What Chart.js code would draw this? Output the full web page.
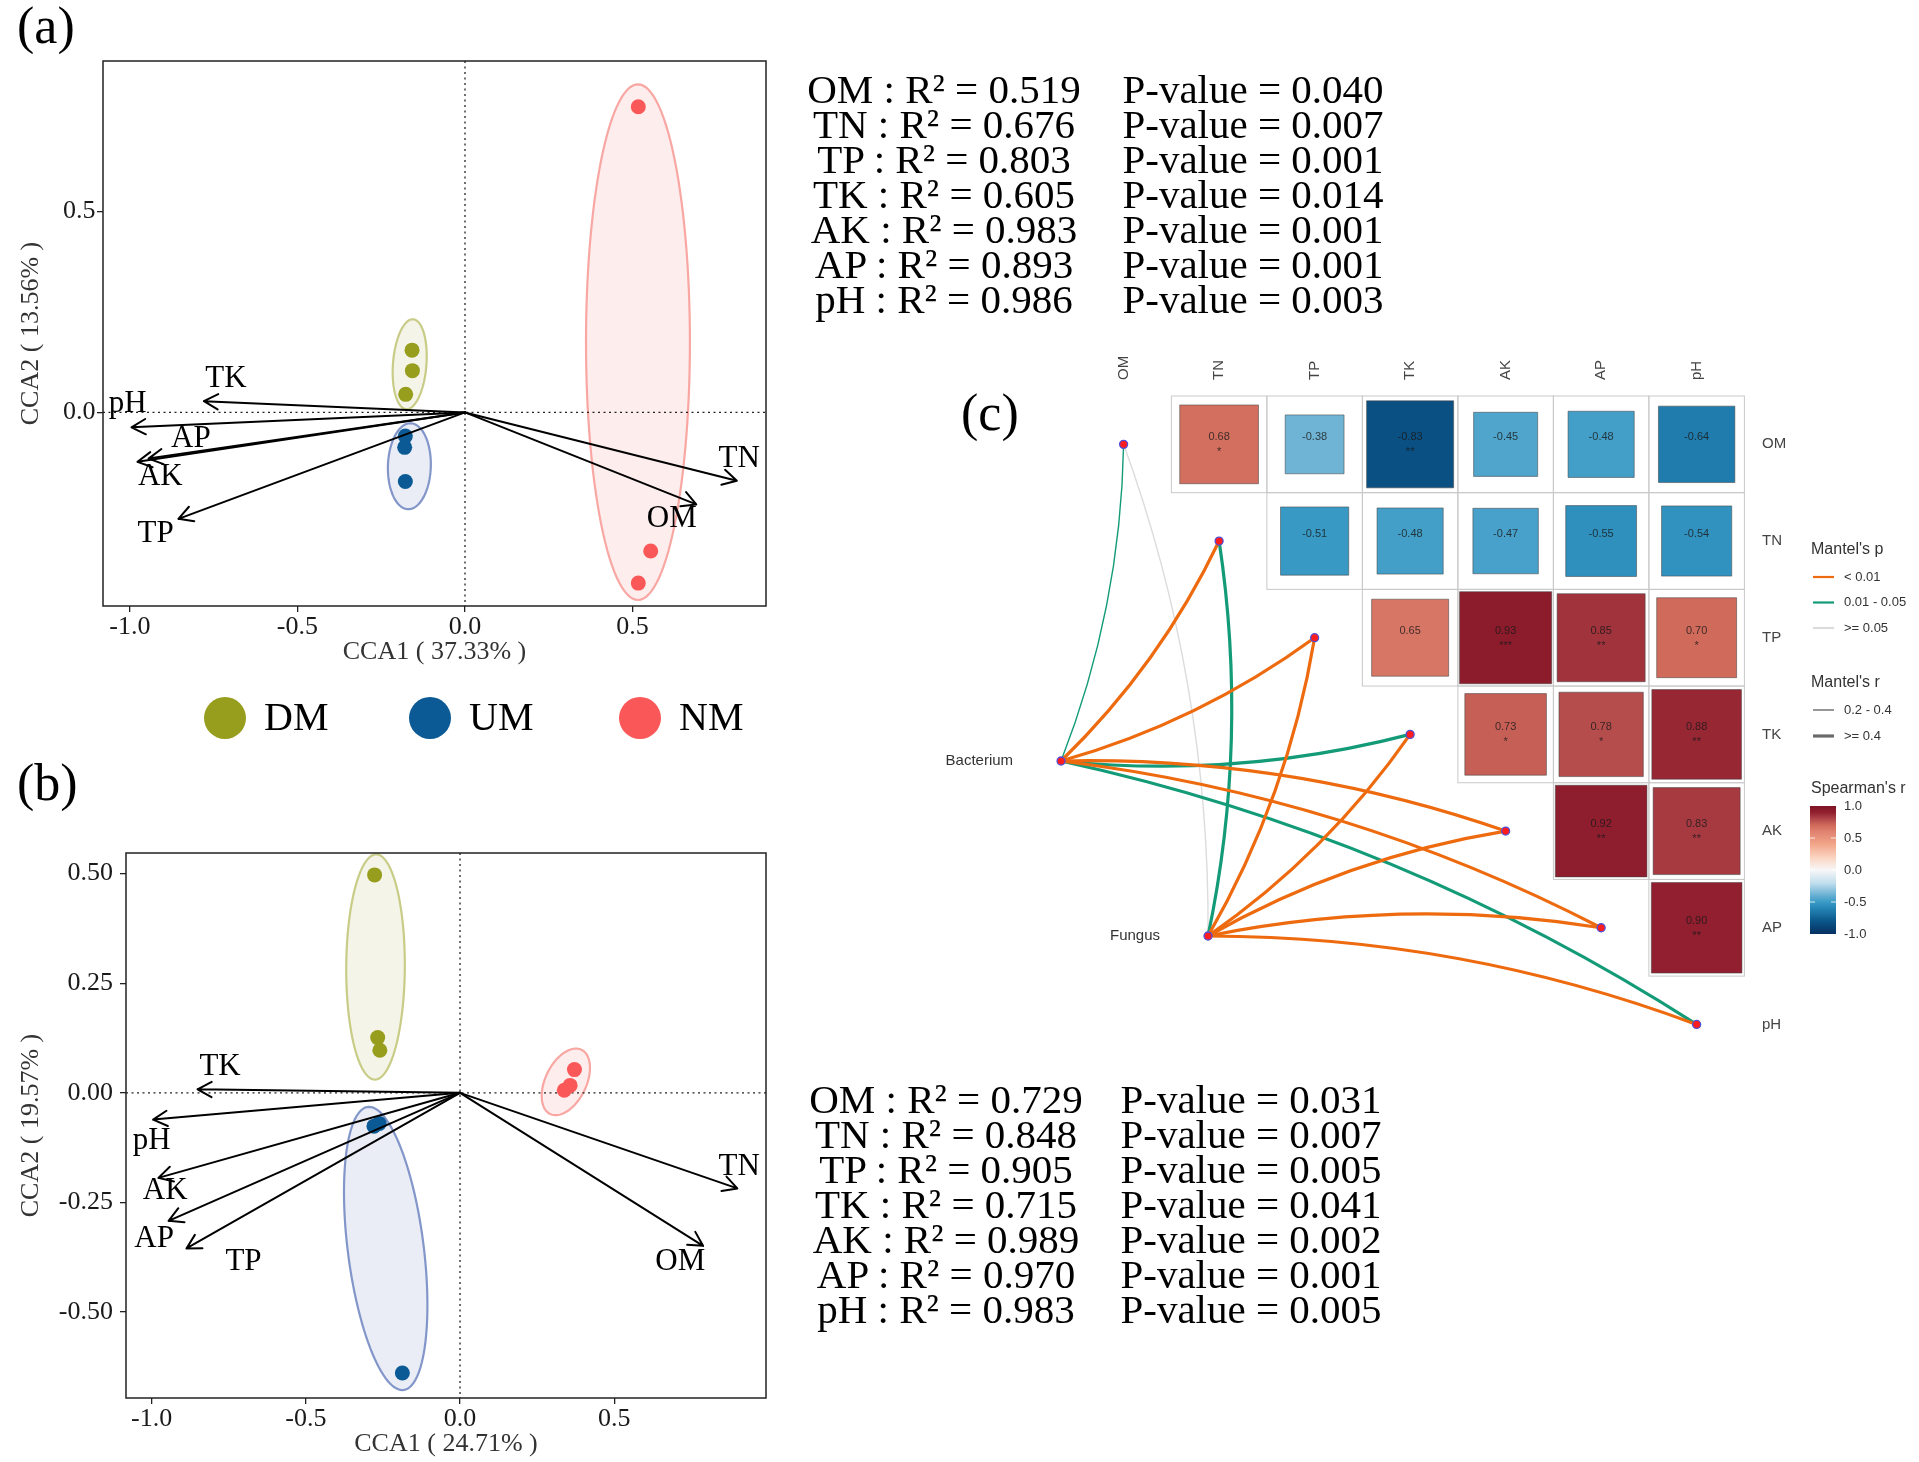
<!DOCTYPE html>
<html lang="en">
<head>
<meta charset="UTF-8">
<title>CCA ordination and Mantel test</title>
<script src="https://cdn.jsdelivr.net/npm/chart.js"></script>
<style>
  html, body { margin: 0; padding: 0; background: #fff; }
  body { position: relative; width: 1919px; height: 1462px; overflow: hidden; font-family: 'Liberation Serif', 'Times New Roman', serif; }
  canvas { position: absolute; }
  #cca1 { left: 0; top: 0; }
  #cca2 { left: 0; top: 760px; }
  #mantel { left: 800px; top: 0; }
  .tag { position: absolute; font-size: 52px; line-height: 52px; color: #000; }
  .stats { position: absolute; width: 360px; font-size: 41px; line-height: 35px; text-align: center; white-space: nowrap; color: #000; }
</style>
</head>
<body>
<canvas id="cca1" width="800" height="760"></canvas>
<canvas id="cca2" width="800" height="702"></canvas>
<canvas id="mantel" width="1119" height="1462"></canvas>
<div class="tag" style="left:17px; top:0px">(a)</div>
<div class="tag" style="left:17px; top:757px">(b)</div>
<div class="tag" style="left:961px; top:387px">(c)</div>
<div class="stats" id="statsA1" style="left:764px; top:72px"></div>
<div class="stats" id="statsA2" style="left:1073px; top:72px"></div>
<div class="stats" id="statsB1" style="left:766px; top:1082px"></div>
<div class="stats" id="statsB2" style="left:1071px; top:1082px"></div>

<script>
// ---- data ----
const envNames = ['OM', 'TN', 'TP', 'TK', 'AK', 'AP', 'pH'];
const groups = ['DM', 'UM', 'NM'];

// envfit results
const r2A = [0.519, 0.676, 0.803, 0.605, 0.983, 0.893, 0.986];
const pA = [0.040, 0.007, 0.001, 0.014, 0.001, 0.001, 0.003];
const r2B = [0.729, 0.848, 0.905, 0.715, 0.989, 0.970, 0.983];
const pB = [0.031, 0.007, 0.005, 0.041, 0.002, 0.001, 0.005];

// panel (a) site scores
const dmA = [[-0.158, 0.155], [-0.157, 0.104], [-0.177, 0.045]];
const umA = [[-0.178, -0.059], [-0.180, -0.087], [-0.178, -0.172]];
const nmA = [[0.517, 0.761], [0.554, -0.345], [0.517, -0.425]];
// env arrow tips, same order as envNames
const arrowsA = [[0.690, -0.229], [0.811, -0.170], [-0.855, -0.265], [-0.779, 0.028], [-0.977, -0.123], [-0.944, -0.115], [-0.995, -0.037]];
const labelPosA = [[0.617, -0.265], [0.818, -0.116], [-0.923, -0.302], [-0.713, 0.083], [-0.909, -0.160], [-0.818, -0.065], [-1.006, 0.021]];
// ellipses: centre x, centre y, then two conjugate half-axes (ux, uy, vx, vy)
const ellipsesA = [[-0.165, 0.120, 0.009, 0.112, 0.050, 0], [-0.166, -0.134, 0.003, 0.107, 0.064, 0], [0.516, 0.175, 0, 0.642, 0.155, 0]];

// panel (b) site scores
const dmB = [[-0.277, 0.497], [-0.267, 0.126], [-0.260, 0.097]];
const umB = [[-0.279, -0.076], [-0.262, -0.070], [-0.187, -0.639]];
const nmB = [[0.371, 0.053], [0.357, 0.017], [0.338, 0.006]];
const arrowsB = [[0.788, -0.349], [0.899, -0.218], [-0.887, -0.355], [-0.851, 0.008], [-0.978, -0.194], [-0.945, -0.292], [-0.995, -0.061]];
const labelPosB = [[0.714, -0.385], [0.905, -0.168], [-0.702, -0.385], [-0.778, 0.059], [-0.956, -0.223], [-0.992, -0.332], [-1.000, -0.109]];
const ellipsesB = [[-0.274, 0.287, 0.002, 0.257, 0.095, 0], [-0.241, -0.355, -0.054, 0.323, 0.124, 0], [0.343, 0.025, 0.033, 0.076, 0.071, 0]];

// ticks
const xTickVals = [-1, -0.5, 0, 0.5];
const xTickText = ['-1.0', '-0.5', '0.0', '0.5'];
const yTickValsA = [0, 0.5];
const yTickTextA = ['0.0', '0.5'];
const yTickValsB = [-0.5, -0.25, 0, 0.25, 0.5];
const yTickTextB = ['-0.50', '-0.25', '0.00', '0.25', '0.50'];

// panel (c) spearman correlations, upper triangle by row
const spearmanRows = [
  [0.68, -0.38, -0.83, -0.45, -0.48, -0.64],
  [-0.51, -0.48, -0.47, -0.55, -0.54],
  [0.65, 0.93, 0.85, 0.70],
  [0.73, 0.78, 0.88],
  [0.92, 0.83],
  [0.90]
];
const spearmanStars = [
  ['*', '', '**', '', '', ''],
  ['', '', '', '', ''],
  ['', '***', '**', '*'],
  ['*', '*', '**'],
  ['**', '**'],
  ['**']
];
const speciesNames = ['Bacterium', 'Fungus'];
const speciesX = [-0.655, 0.884];
const speciesY = [3.275, 5.085];
const mantelP = [
  ['0.01 - 0.05', '< 0.01', '< 0.01', '0.01 - 0.05', '< 0.01', '< 0.01', '0.01 - 0.05'],
  ['>= 0.05', '0.01 - 0.05', '< 0.01', '< 0.01', '< 0.01', '< 0.01', '< 0.01']
];
const mantelR = [
  ['0.2 - 0.4', '>= 0.4', '>= 0.4', '>= 0.4', '>= 0.4', '>= 0.4', '>= 0.4'],
  ['0.2 - 0.4', '>= 0.4', '>= 0.4', '>= 0.4', '>= 0.4', '>= 0.4', '>= 0.4']
];
const pClasses = ['< 0.01', '0.01 - 0.05', '>= 0.05'];
const rClasses = ['0.2 - 0.4', '>= 0.4'];
const spearmanTicks = [1.0, 0.5, 0.0, -0.5, -1.0];

// ---- styles ----
const groupColors = ['#979d1d', '#0b5a95', '#fa5858'];
const ellipseFill = ['rgba(151,157,29,0.10)', 'rgba(45,80,170,0.10)', 'rgba(250,88,88,0.11)'];
const ellipseLine = ['#c8cc87', '#8396c9', '#f8a7a3'];
const pColors = ['#ee6a0f', '#139b78', '#dcdcdc'];
const rWidths = [1.4, 3.2];
const rdbuStops = [[-1, '#053061'], [-0.8, '#0b5689'], [-0.6, '#2585b5'], [-0.5, '#3a9bc6'], [-0.4, '#66afd2'],
  [-0.2, '#c3dfee'], [0, '#f7f7f7'], [0.2, '#fbd3c0'], [0.4, '#f2a68a'], [0.6, '#e08270'], [0.7, '#d06a5b'],
  [0.8, '#b04649'], [0.9, '#921f2f'], [1, '#7f1425']];

Chart.defaults.font.family = "'Liberation Serif', 'Times New Roman', serif";
Chart.defaults.color = '#222';

function hexRgb(h) { return [1, 3, 5].map(i => parseInt(h.substr(i, 2), 16)); }
function corrColor(v) {
  for (let i = 1; i < rdbuStops.length; i++) {
    if (v <= rdbuStops[i][0]) {
      const [v0, c0] = rdbuStops[i - 1], [v1, c1] = rdbuStops[i];
      const t = (v - v0) / (v1 - v0), a = hexRgb(c0), b = hexRgb(c1);
      return 'rgb(' + a.map((c, k) => Math.round(c + (b[k] - c) * t)).join(',') + ')';
    }
  }
  return rdbuStops[rdbuStops.length - 1][1];
}

// ---- stats text ----
function fillStats(id1, id2, r2, p) {
  document.getElementById(id1).innerHTML = envNames.map((e, i) => `<div>${e} : R² = ${r2[i].toFixed(3)}</div>`).join('');
  document.getElementById(id2).innerHTML = p.map(v => `<div>P-value = ${v.toFixed(3)}</div>`).join('');
}
fillStats('statsA1', 'statsA2', r2A, pA);
fillStats('statsB1', 'statsB2', r2B, pB);

// ---- CCA panels ----
function ccaDecor(cfg) {
  return {
    id: 'ccaDecor',
    beforeDatasetsDraw(chart) {
      const { ctx, chartArea: a, scales: { x, y } } = chart;
      ctx.save();
      cfg.ellipses.forEach((e, i) => {
        ctx.beginPath();
        for (let k = 0; k <= 120; k++) {
          const t = k / 120 * Math.PI * 2;
          const px = x.getPixelForValue(e[0] + e[2] * Math.cos(t) + e[4] * Math.sin(t));
          const py = y.getPixelForValue(e[1] + e[3] * Math.cos(t) + e[5] * Math.sin(t));
          if (k) ctx.lineTo(px, py); else ctx.moveTo(px, py);
        }
        ctx.closePath();
        ctx.fillStyle = ellipseFill[i];
        ctx.fill();
        ctx.strokeStyle = ellipseLine[i];
        ctx.lineWidth = 2.2;
        ctx.stroke();
      });
      // dotted zero lines
      const x0 = x.getPixelForValue(0), y0 = y.getPixelForValue(0);
      ctx.setLineDash([2, 3.5]);
      ctx.strokeStyle = '#222';
      ctx.lineWidth = 1.3;
      ctx.beginPath();
      ctx.moveTo(a.left, y0); ctx.lineTo(a.right, y0);
      ctx.moveTo(x0, a.top); ctx.lineTo(x0, a.bottom);
      ctx.stroke();
      ctx.restore();
    },
    afterDatasetsDraw(chart) {
      const { ctx, scales: { x, y } } = chart;
      const x0 = x.getPixelForValue(0), y0 = y.getPixelForValue(0);
      ctx.save();
      ctx.strokeStyle = '#000';
      ctx.lineWidth = 2;
      ctx.lineCap = 'round';
      cfg.arrows.forEach(([ax, ay]) => {
        const x1 = x.getPixelForValue(ax), y1 = y.getPixelForValue(ay);
        const ang = Math.atan2(y1 - y0, x1 - x0);
        ctx.beginPath();
        ctx.moveTo(x0, y0); ctx.lineTo(x1, y1);
        [-1, 1].forEach(s => {
          ctx.moveTo(x1, y1);
          ctx.lineTo(x1 - 16 * Math.cos(ang + s * 0.5), y1 - 16 * Math.sin(ang + s * 0.5));
        });
        ctx.stroke();
      });
      ctx.fillStyle = '#000';
      ctx.font = "31px 'Liberation Serif'";
      ctx.textAlign = 'center';
      ctx.textBaseline = 'middle';
      cfg.labels.forEach(([lx, ly], i) => ctx.fillText(envNames[i], x.getPixelForValue(lx), y.getPixelForValue(ly)));
      ctx.restore();
    },
    afterDraw(chart) {
      const { ctx, chartArea: a } = chart;
      ctx.save();
      ctx.strokeStyle = '#222';
      ctx.lineWidth = 1.5;
      ctx.strokeRect(a.left, a.top, a.width, a.height);
      if (cfg.legend) {
        const cxs = [225, 430, 640];
        ctx.font = "40px 'Liberation Serif'";
        ctx.textBaseline = 'middle';
        chart.data.datasets.forEach((ds, i) => {
          ctx.fillStyle = ds.backgroundColor;
          ctx.beginPath();
          ctx.arc(cxs[i], 718, 21, 0, Math.PI * 2);
          ctx.fill();
          ctx.fillStyle = '#000';
          ctx.fillText(ds.label, cxs[i] + 39, 719);
        });
      }
      ctx.restore();
    }
  };
}

function ccaChart(id, cfg) {
  return new Chart(document.getElementById(id), {
    type: 'scatter',
    data: {
      datasets: cfg.points.map((pts, i) => ({
        label: groups[i],
        data: pts.map(p => ({ x: p[0], y: p[1] })),
        backgroundColor: groupColors[i],
        borderWidth: 0,
        pointRadius: 7.5,
        pointHoverRadius: 7.5
      }))
    },
    options: {
      responsive: false,
      animation: false,
      events: [],
      layout: { padding: cfg.padding },
      plugins: { legend: { display: false }, tooltip: { enabled: false } },
      scales: {
        x: {
          type: 'linear', min: cfg.xRange[0], max: cfg.xRange[1],
          afterBuildTicks: s => { s.ticks = xTickVals.map(v => ({ value: v })); },
          afterFit: s => { s.height = cfg.xAxisH; },
          ticks: { callback: (v, i) => xTickText[i], font: { size: 26 }, color: '#1a1a1a', padding: 0, maxRotation: 0, autoSkip: false },
          grid: { drawOnChartArea: false, drawTicks: true, tickLength: 6, color: '#222', lineWidth: 1.3 },
          border: { display: false },
          title: { display: true, text: cfg.xTitle, font: { size: 26 }, color: '#333', padding: { top: 0, bottom: cfg.xTitlePad } }
        },
        y: {
          type: 'linear', min: cfg.yRange[0], max: cfg.yRange[1],
          afterBuildTicks: s => { s.ticks = cfg.yTicks.map(v => ({ value: v })); },
          afterFit: s => { s.width = cfg.yAxisW; },
          ticks: { callback: (v, i) => cfg.yTickText[i], font: { size: 26 }, color: '#1a1a1a', padding: cfg.yTickPad, autoSkip: false },
          grid: { drawOnChartArea: false, drawTicks: true, tickLength: 6, color: '#222', lineWidth: 1.3 },
          border: { display: false },
          title: { display: true, text: cfg.yTitle, font: { size: 26 }, color: '#333', padding: { top: 15.4, bottom: 0 } }
        }
      }
    },
    plugins: [ccaDecor(cfg)]
  });
}

ccaChart('cca1', {
  points: [dmA, umA, nmA], ellipses: ellipsesA, arrows: arrowsA, labels: labelPosA,
  xRange: [-1.08, 0.898], yRange: [-0.482, 0.875], yTicks: yTickValsA, yTickText: yTickTextA,
  padding: { left: 0, top: 61, right: 34, bottom: 80 }, xAxisH: 74, yAxisW: 103, xTitlePad: 12.4, yTickPad: 1.5,
  xTitle: 'CCA1 ( 37.33% )', yTitle: 'CCA2 ( 13.56% )', legend: true
});

ccaChart('cca2', {
  points: [dmB, umB, nmB], ellipses: ellipsesB, arrows: arrowsB, labels: labelPosB,
  xRange: [-1.083, 0.992], yRange: [-0.696, 0.547], yTicks: yTickValsB, yTickText: yTickTextB,
  padding: { left: 0, top: 93, right: 34, bottom: 0 }, xAxisH: 64, yAxisW: 126, xTitlePad: 2.4, yTickPad: 7,
  xTitle: 'CCA1 ( 24.71% )', yTitle: 'CCA2 ( 19.57% )', legend: false
});

// ---- Mantel panel ----
const squares = [];
spearmanRows.forEach((row, i) => row.forEach((r, m) => squares.push({ x: i + 1 + m, y: i, r: r, stars: spearmanStars[i][m] })));
const nodes = envNames.map((e, i) => ({ x: i, y: i }))
  .concat(speciesNames.map((s, i) => ({ x: speciesX[i], y: speciesY[i] })));

function cellPx(chart) {
  const x = chart.scales.x;
  return x.getPixelForValue(1) - x.getPixelForValue(0);
}

const mantelDecor = {
  id: 'mantelDecor',
  beforeDatasetsDraw(chart) {
    const { ctx, scales: { x, y } } = chart;
    const cw = cellPx(chart);
    const ch = y.getPixelForValue(1) - y.getPixelForValue(0);
    ctx.save();
    ctx.strokeStyle = '#c9c9c9';
    ctx.lineWidth = 1;
    for (let i = 0; i < envNames.length; i++) {
      for (let j = i + 1; j < envNames.length; j++) {
        ctx.strokeRect(x.getPixelForValue(j) - cw / 2, y.getPixelForValue(i) - ch / 2, cw, ch);
      }
    }
    // couple edges, faint class first
    const edges = [];
    speciesNames.forEach((sp, s) => envNames.forEach((e, k) => edges.push({ s, k })));
    edges.sort((a, b) => pClasses.indexOf(mantelP[b.s][b.k]) - pClasses.indexOf(mantelP[a.s][a.k]));
    ctx.lineCap = 'round';
    edges.forEach(({ s, k }) => {
      const sx = x.getPixelForValue(speciesX[s]), sy = y.getPixelForValue(speciesY[s]);
      const ex = x.getPixelForValue(k), ey = y.getPixelForValue(k);
      const dx = ex - sx, dy = ey - sy;
      const c = (k <= 3 ? 1 : -1) * 0.09;
      ctx.beginPath();
      ctx.moveTo(sx, sy);
      ctx.quadraticCurveTo((sx + ex) / 2 - c * dy, (sy + ey) / 2 + c * dx, ex, ey);
      ctx.strokeStyle = pColors[pClasses.indexOf(mantelP[s][k])];
      ctx.lineWidth = rWidths[rClasses.indexOf(mantelR[s][k])];
      ctx.stroke();
    });
    ctx.restore();
  },
  afterDatasetsDraw(chart) {
    const { ctx, chartArea: a, scales: { x, y } } = chart;
    ctx.save();
    ctx.textAlign = 'center';
    ctx.textBaseline = 'middle';
    ctx.fillStyle = 'rgba(25,25,25,0.8)';
    squares.forEach(sq => {
      const px = x.getPixelForValue(sq.x), py = y.getPixelForValue(sq.y);
      ctx.font = "11px 'Liberation Sans'";
      ctx.fillText(sq.r.toFixed(2), px, py - 7);
      if (sq.stars) ctx.fillText(sq.stars, px, py + 8);
    });
    ctx.fillStyle = '#444';
    ctx.font = "15px 'Liberation Sans'";
    ctx.textAlign = 'left';
    envNames.forEach((e, i) => {
      ctx.save();
      ctx.translate(x.getPixelForValue(i), a.top - 16);
      ctx.rotate(-Math.PI / 2);
      ctx.fillText(e, 0, 0);
      ctx.restore();
      ctx.fillText(e, a.right + 17.6, y.getPixelForValue(i));
    });
    ctx.textAlign = 'right';
    ctx.fillStyle = '#333';
    speciesNames.forEach((s, i) => ctx.fillText(s, x.getPixelForValue(speciesX[i]) - 48, y.getPixelForValue(speciesY[i])));
    ctx.restore();
  },
  afterDraw(chart) {
    const { ctx } = chart;
    const lx = 1011;
    ctx.save();
    ctx.textBaseline = 'middle';
    ctx.textAlign = 'left';
    ctx.fillStyle = '#333';
    ctx.font = "16px 'Liberation Sans'";
    ctx.fillText("Mantel's p", lx, 550);
    ctx.fillText("Mantel's r", lx, 683);
    ctx.fillText("Spearman's r", lx, 789);
    ctx.font = "13px 'Liberation Sans'";
    pClasses.forEach((p, i) => {
      const yy = 577 + i * 25.5;
      ctx.strokeStyle = pColors[i];
      ctx.lineWidth = 2.2;
      ctx.beginPath(); ctx.moveTo(lx + 2, yy); ctx.lineTo(lx + 23, yy); ctx.stroke();
      ctx.fillText(p, lx + 33, yy);
    });
    rClasses.forEach((r, i) => {
      const yy = 710 + i * 26;
      ctx.strokeStyle = '#6a6a6a';
      ctx.lineWidth = rWidths[i];
      ctx.beginPath(); ctx.moveTo(lx + 2, yy); ctx.lineTo(lx + 23, yy); ctx.stroke();
      ctx.fillText(r, lx + 33, yy);
    });
    // colour bar
    const top = 806, bot = 934, bx = lx - 1, bw = 26;
    const g = ctx.createLinearGradient(0, top, 0, bot);
    rdbuStops.forEach(([v, c]) => g.addColorStop((1 - v) / 2, c));
    ctx.fillStyle = g;
    ctx.fillRect(bx, top, bw, bot - top);
    spearmanTicks.forEach(t => {
      const yy = top + (1 - t) / 2 * (bot - top);
      if (t > -1 && t < 1) {
        ctx.strokeStyle = 'rgba(255,255,255,0.8)';
        ctx.lineWidth = 1;
        ctx.beginPath();
        ctx.moveTo(bx, yy); ctx.lineTo(bx + 5, yy);
        ctx.moveTo(bx + bw - 5, yy); ctx.lineTo(bx + bw, yy);
        ctx.stroke();
      }
      ctx.fillStyle = '#333';
      ctx.fillText(t.toFixed(1), lx + 33, yy);
    });
    ctx.restore();
  }
};

new Chart(document.getElementById('mantel'), {
  type: 'scatter',
  data: {
    datasets: [
      {
        label: "Spearman's r",
        data: squares,
        pointStyle: 'rect',
        pointRadius: ctx => ctx.raw ? Math.sqrt(Math.abs(ctx.raw.r)) * cellPx(ctx.chart) / Math.SQRT2 : 0,
        backgroundColor: ctx => ctx.raw ? corrColor(ctx.raw.r) : '#ccc',
        borderColor: 'rgba(70,70,70,0.55)',
        borderWidth: 1
      },
      {
        label: 'nodes',
        data: nodes,
        pointRadius: 4,
        backgroundColor: '#ff1d1d',
        borderColor: '#4f4fd8',
        borderWidth: 1.3
      }
    ]
  },
  options: {
    responsive: false,
    animation: false,
    events: [],
    layout: { padding: { left: 228.1, top: 396, right: 174.6, bottom: 389.2 } },
    plugins: { legend: { display: false }, tooltip: { enabled: false } },
    scales: {
      x: { type: 'linear', min: -1, max: 6.5, display: false },
      y: { type: 'linear', min: -0.5, max: 6.5, reverse: true, display: false }
    }
  },
  plugins: [mantelDecor]
});
</script>
</body>
</html>
